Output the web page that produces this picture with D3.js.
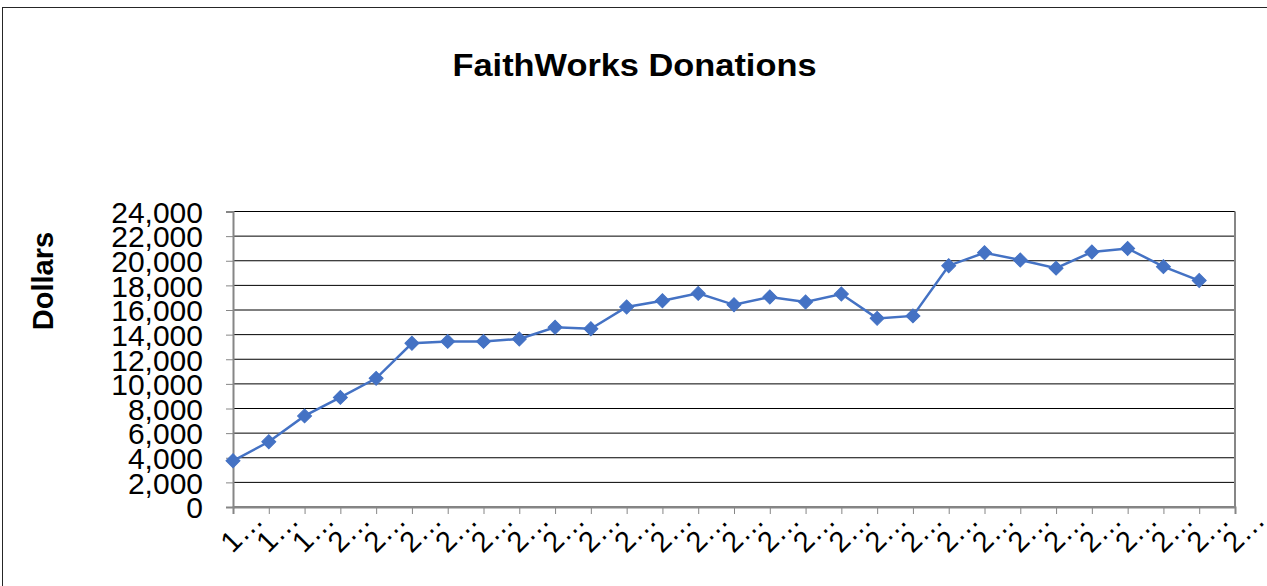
<!DOCTYPE html>
<html>
<head>
<meta charset="utf-8">
<script src="https://cdnjs.cloudflare.com/ajax/libs/d3/7.8.5/d3.min.js"></script>
<style>
	body { margin: 0; background: #ffffff; }
	svg { display: block; }
</style>
</head>
<body>
<div id="chart"></div>
<script>

//chart texts
var chartTitle = "FaithWorks Donations";
var yTitle = "Dollars";

//category labels as they show on the axis (cut off)
var tickLabels = ["1…", "1…", "1…", "2…", "2…", "2…", "2…", "2…", "2…", "2…",
	"2…", "2…", "2…", "2…", "2…", "2…", "2…", "2…", "2…", "2…",
	"2…", "2…", "2…", "2…", "2…", "2…", "2…", "2…", "2…"];

//donations for each category, the last one has no value
var donations = [3750, 5300, 7400, 8900, 10450, 13300, 13450, 13450, 13650, 14600,
	14480, 16250, 16750, 17350, 16420, 17050, 16650, 17300, 15320, 15520,
	19600, 20650, 20060, 19400, 20710, 21000, 19520, 18390];

//y axis ticks
var yTicks = [0, 2000, 4000, 6000, 8000, 10000, 12000, 14000, 16000, 18000, 20000, 22000, 24000];

var width = 1267;
var height = 586;

//plot area
var plotLeft = 233, plotRight = 1235, plotTop = 211.5, plotBottom = 507;

var svg = d3.select("#chart")
	.append("svg")
	.attr("width", width)
	.attr("height", height);

//outer chart border, runs off the right and bottom edge
svg.append("rect")
	.attr("x", 2.5)
	.attr("y", 7.5)
	.attr("width", 1300)
	.attr("height", 700)
	.style("fill", "#ffffff")
	.style("stroke", "#262626")
	.style("stroke-width", 1);

//scales
var x = d3.scalePoint()
	.domain(d3.range(tickLabels.length))
	.range([plotLeft, plotRight]);

var y = d3.scaleLinear()
	.domain([0, 24000])
	.range([plotBottom, plotTop]);

//gridlines
svg.append("g")
	.selectAll("line")
	.data(yTicks)
	.enter()
	.append("line")
	.attr("x1", plotLeft)
	.attr("x2", plotRight)
	.attr("y1", function(d) { return y(d); })
	.attr("y2", function(d) { return y(d); })
	.style("stroke", "#000000")
	.style("stroke-width", 1);

//right border of the plot area
svg.append("line")
	.attr("x1", plotRight)
	.attr("x2", plotRight)
	.attr("y1", plotTop)
	.attr("y2", plotBottom)
	.style("stroke", "#868686")
	.style("stroke-width", 2);

//y axis
var yAxis = svg.append("g")
	.attr("transform", "translate(" + plotLeft + ",0)")
	.call(d3.axisLeft(y)
		.tickValues(yTicks)
		.tickSize(7)
		.tickPadding(23)
		.tickFormat(d3.format(",")));

yAxis.selectAll("text")
	.style("font-family", "'Liberation Sans', Arial, sans-serif")
	.style("font-size", "30px")
	.style("fill", "#000000")
	.attr("dy", "0.36em");

//x axis
var xAxis = svg.append("g")
	.attr("transform", "translate(0," + plotBottom + ")")
	.call(d3.axisBottom(x)
		.tickSize(7)
		.tickFormat(function(d) { return tickLabels[d]; }));

xAxis.selectAll("text")
	.style("font-family", "'Liberation Sans', Arial, sans-serif")
	.style("font-size", "29px")
	.style("fill", "#000000")
	.attr("text-anchor", "start")
	.attr("x", 0)
	.attr("y", 0)
	.attr("dy", 0)
	.attr("transform", "translate(-1,47) rotate(-45)");

//axis lines and ticks grey
svg.selectAll(".domain, .tick line")
	.style("stroke", "#868686");
svg.selectAll(".domain")
	.style("stroke-width", 2);

//donation line
var line = d3.line()
	.defined(function(d) { return d != null; })
	.x(function(d, i) { return x(i); })
	.y(function(d) { return y(d); });

svg.append("path")
	.datum(donations)
	.attr("d", line)
	.style("fill", "none")
	.style("stroke", "#4472C4")
	.style("stroke-width", 2.5);

//diamond markers
var diamond = d3.symbol().type(d3.symbolSquare).size(98);

svg.append("g")
	.selectAll("path")
	.data(donations)
	.enter()
	.append("path")
	.attr("d", diamond)
	.attr("transform", function(d, i) { return "translate(" + x(i) + "," + y(d) + ") rotate(45)"; })
	.style("fill", "#4472C4")
	.style("stroke", "#4472C4")
	.style("stroke-width", 1);

//title
svg.append("text")
	.attr("x", 634.5)
	.attr("y", 76)
	.attr("text-anchor", "middle")
	.attr("textLength", 364)
	.attr("lengthAdjust", "spacingAndGlyphs")
	.style("font-family", "'Liberation Sans', Arial, sans-serif")
	.style("font-size", "32px")
	.style("font-weight", "bold")
	.text(chartTitle);

//y axis title
svg.append("text")
	.attr("x", 53)
	.attr("y", 281)
	.attr("text-anchor", "middle")
	.attr("transform", "rotate(-90,53,281)")
	.style("font-family", "'Liberation Sans', Arial, sans-serif")
	.style("font-size", "29px")
	.style("font-weight", "bold")
	.text(yTitle);

</script>
</body>
</html>
